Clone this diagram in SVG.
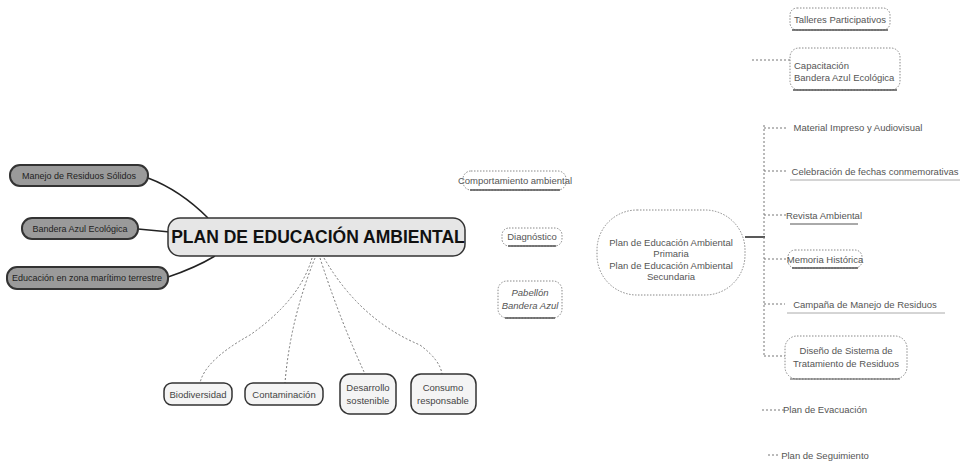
<svg xmlns="http://www.w3.org/2000/svg" width="966" height="465" viewBox="0 0 966 465">
<style>
text{font-family:"Liberation Sans",Arial,sans-serif;fill:#555;font-size:9.5px;text-anchor:middle}
.dk rect{fill:#9a9a9a;stroke:#333;stroke-width:2}
.dk text{fill:#222;font-size:9px}
.lt rect{fill:#f4f4f4;stroke:#333;stroke-width:1.5}
.lt text{fill:#444}
.dt rect{fill:none;stroke:#888;stroke-width:1;stroke-dasharray:1.5 1.5}
.ul{stroke:#555;stroke-width:1.5;fill:none}
.c line,.c path{fill:none}
.solid{stroke:#222;stroke-width:1.5}
.dash{stroke:#777;stroke-width:1;stroke-dasharray:2 2}
</style>
<g class="c" id="connectors">
<path class="solid" d="M148,178 Q180,190 208,218"/>
<line class="solid" x1="138" y1="229" x2="170" y2="232"/>
<path class="solid" d="M168,277 Q195,268 215,256"/>
<path class="dash" d="M312,258 Q300,300 250,335 Q205,360 200,383"/>
<path class="dash" d="M315,258 Q290,320 285,383"/>
<path class="dash" d="M320,258 Q340,320 365,374"/>
<path class="dash" d="M324,258 Q360,320 420,345 Q440,360 442,374"/>
<line class="solid" x1="745" y1="237" x2="765" y2="237"/>
<line class="dash" x1="764" y1="125" x2="764" y2="356"/>
<line class="dash" x1="764" y1="128" x2="788" y2="128"/>
<line class="dash" x1="764" y1="171" x2="788" y2="171"/>
<line class="dash" x1="764" y1="215" x2="788" y2="215"/>
<line class="dash" x1="764" y1="259" x2="788" y2="259"/>
<line class="dash" x1="764" y1="304" x2="785" y2="304"/>
<line class="dash" x1="764" y1="356" x2="785" y2="356"/>
<line class="dash" x1="762" y1="410" x2="785" y2="410"/>
<line class="dash" x1="768" y1="455" x2="780" y2="455"/>
<line class="dash" x1="752" y1="60" x2="790" y2="60"/>
</g>
<g id="center" class="lt">
<rect x="168" y="218" width="297" height="38" rx="12" style="fill:#e6e6e6"/>
<text x="318" y="243" style="font-size:17.5px;font-weight:bold;fill:#111">PLAN DE EDUCACIÓN AMBIENTAL</text>
</g>
<g id="n-manejo" class="dk"><rect x="10" y="165" width="138" height="21" rx="10"/><text x="79" y="179">Manejo de Residuos Sólidos</text></g>
<g id="n-bandera" class="dk"><rect x="22" y="218" width="116" height="21" rx="10"/><text x="80" y="232">Bandera Azul Ecológica</text></g>
<g id="n-educacion" class="dk"><rect x="7" y="267" width="161" height="22" rx="10"/><text x="87" y="281">Educación en zona marítimo terrestre</text></g>
<g id="n-biodiversidad" class="lt"><rect x="164" y="383" width="68" height="22" rx="8"/><text x="198" y="397.5">Biodiversidad</text></g>
<g id="n-contaminacion" class="lt"><rect x="245" y="383" width="78" height="22" rx="8"/><text x="284" y="397.5">Contaminación</text></g>
<g id="n-desarrollo" class="lt"><rect x="340" y="374" width="56" height="40" rx="10"/><text x="368" y="391">Desarrollo</text><text x="368" y="404">sostenible</text></g>
<g id="n-consumo" class="lt"><rect x="411" y="374" width="65" height="40" rx="10"/><text x="443" y="391">Consumo</text><text x="443" y="404">responsable</text></g>
<g id="n-comportamiento" class="dt"><rect x="463" y="171" width="103" height="19" rx="8"/><path class="ul" d="M470,190 H560"/><text x="515" y="184">Comportamiento ambiental</text></g>
<g id="n-diagnostico" class="dt"><rect x="502" y="228" width="60" height="18" rx="7"/><path class="ul" d="M508,246 H556"/><text x="532" y="240">Diagnóstico</text></g>
<g id="n-pabellon" class="dt"><rect x="498" y="281" width="64" height="37" rx="9"/><path class="ul" d="M505,318 H555"/><text x="530" y="296" style="font-style:italic">Pabellón</text><text x="530" y="309" style="font-style:italic">Bandera Azul</text></g>
<g id="n-plan" class="dt"><rect x="597" y="210" width="148" height="85" rx="40"/><text x="671" y="246">Plan de Educación Ambiental</text><text x="671" y="257">Primaria</text><text x="671" y="269">Plan de Educación Ambiental</text><text x="671" y="280">Secundaria</text></g>
<g id="n-talleres" class="dt"><rect x="790" y="8" width="100" height="22" rx="7"/><path class="ul" d="M792,30 H888"/><text x="840" y="23">Talleres Participativos</text></g>
<g id="n-capacitacion" class="dt"><rect x="790" y="48" width="110" height="42" rx="9"/><path class="ul" d="M793,90 H897"/><text x="794" y="69" style="text-anchor:start">Capacitación</text><text x="794" y="81" style="text-anchor:start">Bandera Azul Ecológica</text></g>
<g id="n-material" class="dt"><rect x="788" y="118" width="140" height="19" rx="7" style="stroke:none"/><text x="858" y="131">Material Impreso y Audiovisual</text></g>
<g id="n-celebracion" class="dt"><rect x="788" y="162" width="174" height="18" rx="7" style="stroke:none"/><path class="ul" d="M790,180 H960" style="stroke:#aaa;stroke-width:1"/><text x="875" y="175">Celebración de fechas conmemorativas</text></g>
<g id="n-revista" class="dt"><rect x="788" y="206" width="72" height="18" rx="7" style="stroke:none"/><path class="ul" d="M790,224 H858" style="stroke-width:1"/><text x="824" y="219">Revista Ambiental</text></g>
<g id="n-memoria" class="dt"><rect x="788" y="250" width="74" height="18" rx="7"/><path class="ul" d="M792,268 H858"/><text x="825" y="263">Memoria Histórica</text></g>
<g id="n-campana" class="dt"><rect x="785" y="295" width="162" height="18" rx="7" style="stroke:none"/><path class="ul" d="M787,313 H945" style="stroke:#aaa;stroke-width:1"/><text x="865" y="308">Campaña de Manejo de Residuos</text></g>
<g id="n-diseno" class="dt"><rect x="785" y="336" width="122" height="43" rx="12"/><path class="ul" d="M790,379 H900" style="stroke-width:1"/><text x="846" y="354">Diseño de Sistema de</text><text x="846" y="367">Tratamiento de Residuos</text></g>
<g id="n-evacuacion" class="dt"><rect x="785" y="400" width="80" height="18" rx="7" style="stroke:none"/><text x="825" y="413">Plan de Evacuación</text></g>
<g id="n-seguimiento" class="dt"><rect x="780" y="447" width="90" height="16" rx="7" style="stroke:none"/><text x="825" y="459">Plan de Seguimiento</text></g>
</svg>
